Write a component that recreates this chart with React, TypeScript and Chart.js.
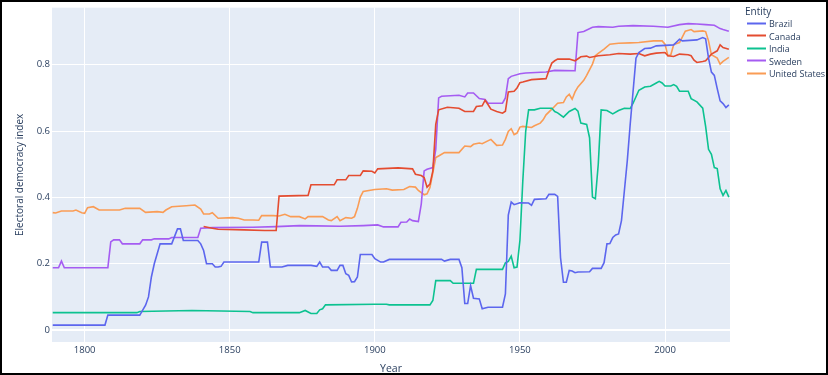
import React, { useEffect, useRef } from "react";
import { Chart, registerables } from "chart.js";

Chart.register(...registerables);

const entityNames = ["Brazil", "Canada", "India", "Sweden", "United States"];
const entityColors = ["#5C66EE", "#E44C30", "#0CC290", "#A55CF2", "#FA9C55"];

const brazilYears = [1789, 1807, 1808, 1819, 1820, 1821, 1822, 1823, 1824, 1826, 1830, 1832, 1833, 1834, 1839, 1840, 1841, 1842, 1844, 1845, 1846, 1847, 1848, 1860, 1861, 1863, 1864, 1868, 1870, 1878, 1880, 1881, 1882, 1884, 1885, 1887, 1888, 1889, 1890, 1891, 1892, 1893, 1894, 1895, 1899, 1900, 1902, 1903, 1905, 1923, 1924, 1926, 1929, 1930, 1931, 1932, 1933, 1934, 1936, 1937, 1939, 1944, 1945, 1946, 1947, 1948, 1950, 1953, 1954, 1955, 1959, 1960, 1962, 1963, 1964, 1965, 1966, 1967, 1968, 1969, 1970, 1974, 1975, 1978, 1979, 1980, 1981, 1982, 1983, 1984, 1985, 1986, 1987, 1988, 1989, 1990, 1991, 1993, 1995, 1997, 2003, 2005, 2006, 2011, 2013, 2014, 2015, 2016, 2017, 2018, 2019, 2020, 2021, 2022];
const brazilValues = [0.015, 0.015, 0.045, 0.045, 0.06, 0.075, 0.1, 0.16, 0.2, 0.26, 0.26, 0.305, 0.305, 0.27, 0.27, 0.26, 0.24, 0.2, 0.2, 0.19, 0.19, 0.192, 0.205, 0.205, 0.265, 0.265, 0.19, 0.19, 0.195, 0.195, 0.192, 0.205, 0.19, 0.19, 0.18, 0.18, 0.195, 0.195, 0.17, 0.165, 0.145, 0.146, 0.16, 0.228, 0.228, 0.215, 0.205, 0.205, 0.213, 0.213, 0.208, 0.213, 0.213, 0.188, 0.08, 0.08, 0.134, 0.096, 0.094, 0.064, 0.069, 0.069, 0.109, 0.347, 0.386, 0.378, 0.384, 0.383, 0.376, 0.394, 0.396, 0.409, 0.409, 0.403, 0.218, 0.144, 0.144, 0.18, 0.178, 0.173, 0.175, 0.176, 0.186, 0.186, 0.203, 0.26, 0.261, 0.279, 0.287, 0.29, 0.33, 0.42, 0.51, 0.62, 0.72, 0.82, 0.837, 0.849, 0.85, 0.857, 0.86, 0.877, 0.872, 0.875, 0.882, 0.878, 0.82, 0.778, 0.768, 0.728, 0.691, 0.683, 0.671, 0.679];

const canadaYears = [1841, 1844, 1846, 1855, 1862, 1866, 1867, 1877, 1878, 1886, 1887, 1890, 1891, 1895, 1896, 1899, 1900, 1901, 1908, 1913, 1914, 1916, 1917, 1918, 1919, 1920, 1921, 1922, 1925, 1929, 1931, 1934, 1935, 1937, 1938, 1939, 1940, 1942, 1944, 1945, 1946, 1948, 1949, 1950, 1951, 1954, 1959, 1960, 1961, 1962, 1963, 1967, 1969, 1971, 1973, 1974, 1977, 1981, 1984, 1988, 1991, 1993, 1995, 1997, 2000, 2001, 2003, 2005, 2008, 2009, 2010, 2011, 2013, 2014, 2016, 2018, 2019, 2020, 2022];
const canadaValues = [0.312, 0.307, 0.304, 0.302, 0.3, 0.3, 0.404, 0.406, 0.438, 0.438, 0.453, 0.453, 0.466, 0.466, 0.48, 0.479, 0.474, 0.486, 0.489, 0.486, 0.47, 0.466, 0.46, 0.431, 0.44, 0.48, 0.62, 0.664, 0.672, 0.669, 0.659, 0.659, 0.674, 0.676, 0.693, 0.68, 0.666, 0.659, 0.654, 0.66, 0.718, 0.72, 0.73, 0.746, 0.748, 0.755, 0.758, 0.783, 0.805, 0.812, 0.817, 0.817, 0.812, 0.824, 0.826, 0.822, 0.827, 0.83, 0.834, 0.832, 0.834, 0.827, 0.832, 0.835, 0.837, 0.827, 0.825, 0.832, 0.83, 0.827, 0.814, 0.807, 0.81, 0.812, 0.832, 0.842, 0.86, 0.852, 0.847];

const indiaYears = [1789, 1818, 1819, 1837, 1857, 1858, 1874, 1876, 1878, 1880, 1881, 1882, 1883, 1900, 1904, 1905, 1919, 1920, 1921, 1926, 1927, 1934, 1935, 1944, 1945, 1946, 1947, 1948, 1949, 1950, 1951, 1952, 1953, 1955, 1957, 1961, 1962, 1963, 1965, 1967, 1969, 1970, 1971, 1973, 1974, 1975, 1976, 1977, 1978, 1980, 1982, 1984, 1986, 1988, 1989, 1991, 1993, 1995, 1997, 1998, 1999, 2000, 2002, 2003, 2004, 2005, 2008, 2009, 2011, 2013, 2014, 2015, 2016, 2017, 2018, 2019, 2020, 2021, 2022];
const indiaValues = [0.0525, 0.0525, 0.056, 0.059, 0.056, 0.0525, 0.0525, 0.059, 0.05, 0.05, 0.061, 0.064, 0.076, 0.078, 0.078, 0.076, 0.076, 0.089, 0.149, 0.149, 0.141, 0.141, 0.183, 0.183, 0.203, 0.207, 0.223, 0.188, 0.19, 0.27, 0.45, 0.6, 0.664, 0.664, 0.669, 0.669, 0.659, 0.655, 0.642, 0.659, 0.668, 0.66, 0.624, 0.62, 0.58, 0.401, 0.396, 0.5, 0.664, 0.662, 0.652, 0.662, 0.669, 0.668, 0.684, 0.723, 0.733, 0.735, 0.745, 0.75, 0.745, 0.736, 0.736, 0.74, 0.735, 0.72, 0.72, 0.698, 0.688, 0.669, 0.614, 0.545, 0.53, 0.49, 0.487, 0.426, 0.406, 0.421, 0.401];

const swedenYears = [1789, 1791, 1792, 1793, 1808, 1809, 1810, 1812, 1813, 1819, 1820, 1823, 1824, 1829, 1830, 1839, 1840, 1844, 1858, 1866, 1874, 1880, 1888, 1896, 1901, 1903, 1908, 1909, 1911, 1912, 1913, 1915, 1916, 1917, 1918, 1920, 1921, 1922, 1923, 1929, 1931, 1932, 1934, 1936, 1938, 1939, 1944, 1945, 1946, 1947, 1950, 1952, 1959, 1962, 1969, 1970, 1972, 1975, 1977, 1982, 1984, 1989, 1996, 2001, 2005, 2008, 2011, 2014, 2017, 2019, 2020, 2022];
const swedenValues = [0.188, 0.188, 0.208, 0.188, 0.188, 0.266, 0.272, 0.272, 0.26, 0.26, 0.272, 0.272, 0.275, 0.275, 0.279, 0.279, 0.307, 0.309, 0.31, 0.312, 0.315, 0.314, 0.313, 0.315, 0.317, 0.311, 0.311, 0.325, 0.326, 0.335, 0.33, 0.327, 0.38, 0.48, 0.485, 0.49, 0.545, 0.7, 0.705, 0.708, 0.703, 0.715, 0.715, 0.698, 0.695, 0.684, 0.684, 0.7, 0.758, 0.765, 0.773, 0.775, 0.778, 0.783, 0.782, 0.897, 0.9, 0.913, 0.915, 0.913, 0.916, 0.918, 0.916, 0.913, 0.921, 0.924, 0.923, 0.921, 0.919, 0.909, 0.906, 0.901];

const usYears = [1789, 1790, 1792, 1796, 1797, 1799, 1800, 1801, 1803, 1805, 1812, 1814, 1819, 1821, 1825, 1827, 1828, 1830, 1835, 1838, 1840, 1841, 1843, 1844, 1846, 1851, 1853, 1855, 1858, 1860, 1861, 1865, 1867, 1869, 1871, 1874, 1876, 1877, 1882, 1884, 1885, 1887, 1888, 1890, 1892, 1893, 1894, 1895, 1896, 1900, 1904, 1906, 1910, 1912, 1914, 1915, 1917, 1918, 1919, 1920, 1921, 1922, 1924, 1929, 1931, 1933, 1934, 1936, 1937, 1940, 1942, 1944, 1945, 1946, 1947, 1948, 1949, 1950, 1951, 1954, 1955, 1957, 1958, 1959, 1961, 1963, 1965, 1966, 1967, 1968, 1969, 1970, 1972, 1973, 1975, 1976, 1977, 1979, 1981, 1984, 1988, 1991, 1996, 1999, 2000, 2001, 2002, 2003, 2005, 2007, 2009, 2010, 2013, 2014, 2015, 2016, 2018, 2019, 2020, 2022];
const usValues = [0.354, 0.353, 0.359, 0.359, 0.362, 0.354, 0.352, 0.369, 0.372, 0.362, 0.362, 0.367, 0.367, 0.355, 0.357, 0.355, 0.362, 0.372, 0.375, 0.377, 0.365, 0.35, 0.35, 0.354, 0.337, 0.339, 0.337, 0.332, 0.332, 0.331, 0.345, 0.345, 0.344, 0.349, 0.342, 0.342, 0.335, 0.342, 0.342, 0.332, 0.33, 0.342, 0.33, 0.339, 0.337, 0.342, 0.367, 0.401, 0.418, 0.424, 0.426, 0.422, 0.424, 0.433, 0.431, 0.421, 0.408, 0.411, 0.43, 0.475, 0.52, 0.525, 0.535, 0.535, 0.555, 0.553, 0.56, 0.564, 0.562, 0.575, 0.557, 0.558, 0.575, 0.599, 0.607, 0.589, 0.594, 0.612, 0.614, 0.611, 0.616, 0.624, 0.634, 0.649, 0.666, 0.684, 0.686, 0.703, 0.711, 0.696, 0.718, 0.733, 0.753, 0.768, 0.802, 0.827, 0.834, 0.847, 0.862, 0.865, 0.866, 0.867, 0.872, 0.872, 0.862, 0.827, 0.83, 0.861, 0.867, 0.901, 0.906, 0.9, 0.902, 0.9, 0.872, 0.83, 0.82, 0.802, 0.81, 0.822];

const seriesYears = [brazilYears, canadaYears, indiaYears, swedenYears, usYears];
const seriesValues = [brazilValues, canadaValues, indiaValues, swedenValues, usValues];

const xTickValues = [1800, 1850, 1900, 1950, 2000];
const yTickValues = [0, 0.2, 0.4, 0.6, 0.8];

const FONT = "'Open Sans', 'Liberation Sans', Arial, sans-serif";
const TEXT = "#2a3f5f";

const plotBg = {
  id: "plotBg",
  beforeDraw(chart: any) {
    const { ctx, chartArea } = chart;
    ctx.save();
    ctx.fillStyle = "#E5ECF6";
    ctx.fillRect(chartArea.left, chartArea.top, chartArea.right - chartArea.left, chartArea.bottom - chartArea.top);
    ctx.restore();
  },
};

export default function App() {
  const ref = useRef<HTMLCanvasElement>(null);
  useEffect(() => {
    if (!ref.current) return;
    const chart = new Chart(ref.current, {
      type: "line",
      data: {
        datasets: entityNames.map((name, i) => ({
          label: name,
          data: seriesYears[i].map((x, j) => ({ x, y: seriesValues[i][j] })),
          borderColor: entityColors[i],
          backgroundColor: entityColors[i],
          borderWidth: 1.6,
          pointRadius: 0,
          tension: 0,
          fill: false,
        })),
      },
      options: {
        animation: false,
        responsive: false,
        maintainAspectRatio: false,
        events: [],
        layout: { padding: { left: 0, top: 3, right: 98, bottom: 0 } },
        plugins: { legend: { display: false }, tooltip: { enabled: false } },
        scales: {
          x: {
            type: "linear",
            min: 1788.75,
            max: 2022.4,
            afterFit: (s: any) => { s.height = 33; },
            afterBuildTicks: (s: any) => { s.ticks = xTickValues.map((v) => ({ value: v })); },
            ticks: {
              padding: 3,
              color: TEXT,
              font: { family: FONT, size: 9.5 },
              callback: (v: any) => String(v),
              maxRotation: 0,
            },
            grid: { color: "#ffffff", lineWidth: 1, drawTicks: false },
            border: { display: false },
            title: {
              display: true,
              text: "Year",
              color: TEXT,
              font: { family: FONT, size: 10.5 },
              padding: { top: 3.5, bottom: 0 },
            },
          },
          y: {
            type: "linear",
            min: -0.036,
            max: 0.972,
            afterFit: (s: any) => { s.width = 52; },
            afterBuildTicks: (s: any) => { s.ticks = yTickValues.map((v) => ({ value: v })); },
            ticks: {
              padding: 2,
              color: TEXT,
              font: { family: FONT, size: 9.5 },
              callback: (v: any) => String(v),
            },
            grid: {
              color: "#ffffff",
              lineWidth: (c: any) => (c.tick && c.tick.value === 0 ? 2 : 1),
              drawTicks: false,
            },
            border: { display: false },
            title: {
              display: true,
              text: "Electoral democracy index",
              color: TEXT,
              font: { family: FONT, size: 10 },
              padding: { top: 14.5, bottom: 0 },
            },
          },
        },
      },
      plugins: [plotBg],
    });
    return () => chart.destroy();
  }, []);

  const legendTops = [23, 35.7, 48.3, 60.7, 73];

  return (
    <div style={{ position: "fixed", left: 0, top: 0, width: 828, height: 375, background: "#fff", overflow: "hidden" }}>
      <canvas ref={ref} width={828} height={375} style={{ position: "absolute", left: 0, top: 0, width: 828, height: 375 }} />
      <div style={{ position: "absolute", left: 745, top: 10.5, transform: "translateY(-50%)", fontFamily: FONT, fontSize: 10, color: TEXT, lineHeight: 1, whiteSpace: "nowrap" }}>Entity</div>
      {entityNames.map((name, i) => (
        <div key={name} style={{ position: "absolute", left: 747, top: legendTops[i], transform: "translateY(-50%)", display: "flex", alignItems: "center", whiteSpace: "nowrap" }}>
          <span style={{ display: "inline-block", width: 19, height: 2, background: entityColors[i] }} />
          <span style={{ marginLeft: 3, fontFamily: FONT, fontSize: 9, color: TEXT, lineHeight: 1 }}>{name}</span>
        </div>
      ))}
      <div style={{ position: "absolute", left: 0, top: 0, width: 828, height: 375, boxSizing: "border-box", border: "2px solid #000", pointerEvents: "none" }} />
    </div>
  );
}
